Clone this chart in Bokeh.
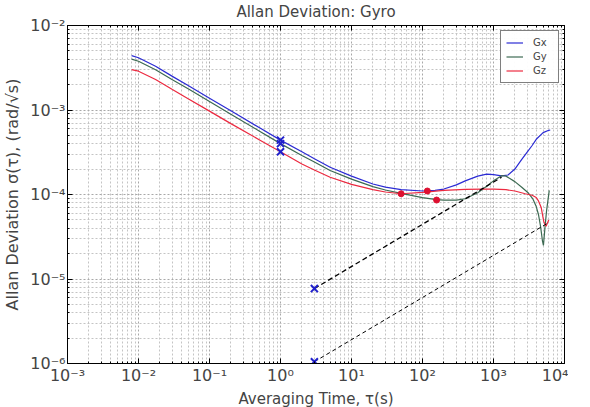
from bokeh.plotting import figure
from bokeh.models import (FixedTicker, CustomJSTickFormatter, LogAxis, Legend,
                          LegendItem, Range1d)
from bokeh.embed import file_html
from bokeh.resources import INLINE

# ---------------- data ----------------
tau_gx = [0.008, 0.01, 0.0174, 0.03, 0.05, 0.1, 0.2, 0.5, 1, 2, 3, 5, 10, 20, 30, 50,
          100, 150, 200, 300, 400, 600, 800, 1000, 1300, 1600, 2000, 2500, 3000,
          3500, 4000, 5000, 6000, 6300]
gx = [4.4e-3, 4.15e-3, 3.3e-3, 2.5e-3, 1.95e-3, 1.38e-3, 9.8e-4, 6.2e-4, 4.4e-4,
      3.2e-4, 2.65e-4, 2.1e-4, 1.65e-4, 1.33e-4, 1.22e-4, 1.14e-4, 1.1e-4, 1.12e-4,
      1.16e-4, 1.3e-4, 1.45e-4, 1.65e-4, 1.74e-4, 1.72e-4, 1.66e-4, 1.7e-4, 2.0e-4,
      2.6e-4, 3.2e-4, 3.8e-4, 4.5e-4, 5.4e-4, 5.75e-4, 5.8e-4]

tau_gy = [0.008, 0.01, 0.0174, 0.03, 0.05, 0.1, 0.2, 0.5, 1, 2, 3, 5, 10, 20, 30, 50,
          100, 158, 200, 300, 400, 600, 800, 1000, 1300, 1500, 2000, 2500, 3100,
          3600, 4000, 4300, 4600, 4900, 5050, 5300, 5600, 6100]
gy = [4.0e-3, 3.78e-3, 3.0e-3, 2.28e-3, 1.78e-3, 1.26e-3, 8.9e-4, 5.65e-4, 4.0e-4,
      2.9e-4, 2.42e-4, 1.92e-4, 1.52e-4, 1.24e-4, 1.13e-4, 1.03e-4, 9.2e-5, 8.7e-5,
      8.6e-5, 8.6e-5, 8.9e-5, 1.05e-4, 1.25e-4, 1.45e-4, 1.67e-4, 1.65e-4, 1.42e-4,
      1.22e-4, 1.04e-4, 8.8e-5, 7.2e-5, 5.8e-5, 4.2e-5, 2.8e-5, 2.5e-5, 4.0e-5,
      6.5e-5, 1.12e-4]

tau_gz = [0.008, 0.01, 0.0174, 0.03, 0.05, 0.1, 0.2, 0.5, 1, 2, 3, 5, 10, 20, 30, 50,
          100, 200, 400, 700, 1000, 1500, 2000, 2800, 3500, 4000, 4300, 4700, 5100,
          5500, 6000]
gz = [3.0e-3, 2.88e-3, 2.3e-3, 1.75e-3, 1.36e-3, 9.7e-4, 6.9e-4, 4.45e-4, 3.2e-4,
      2.3e-4, 1.95e-4, 1.6e-4, 1.32e-4, 1.14e-4, 1.07e-4, 1.02e-4, 1.06e-4, 1.12e-4,
      1.15e-4, 1.16e-4, 1.16e-4, 1.14e-4, 1.1e-4, 1.02e-4, 9.8e-5, 9.2e-5, 8.4e-5,
      7.0e-5, 4.8e-5, 4.2e-5, 5.0e-5]

# markers
arw_tau = [1, 1, 1]
arw_val = [4.4e-4, 4.0e-4, 3.2e-4]
rrw_mark_tau = [3, 3]
rrw_mark_val = [7.7e-6, 1.05e-6]
bias_tau = [50, 117, 158]
bias_val = [1.02e-4, 1.1e-4, 8.6e-5]

# rate-random-walk guide lines
rrw1_tau = [3, 1300]
rrw1_val = [7.7e-6, 1.6e-4]
rrw2_tau = [3, 5600]
rrw2_val = [1.05e-6, 4.5e-5]

x_major = [1e-3, 1e-2, 1e-1, 1e0, 1e1, 1e2, 1e3, 1e4]
y_major = [1e-6, 1e-5, 1e-4, 1e-3, 1e-2]
x_minor = [k * 10.0 ** n for n in range(-3, 4) for k in range(2, 10)]
y_minor = [k * 10.0 ** n for n in range(-6, -2) for k in range(2, 10)]

FONT = "DejaVu Sans"
C_GX = "#2b2bd4"
C_GY = "#3d6a52"
C_GZ = "#ec2a40"

p = figure(frame_width=497, frame_height=338, x_axis_type="log", y_axis_type="log",
           x_range=Range1d(1e-3, 1e4), y_range=Range1d(1e-6, 1e-2),
           output_backend="svg", toolbar_location=None,
           min_border_left=65, min_border_right=4, min_border_top=4,
           min_border_bottom=4)

p.title.text = "Allan Deviation: Gyro"
p.title.align = "center"
p.title.text_font = FONT
p.title.text_font_size = "15px"
p.title.text_font_style = "normal"
p.title.standoff = 0

fmt = CustomJSTickFormatter(code="""
const sup = {"-":"\u207b","0":"\u2070","1":"\u00b9","2":"\u00b2","3":"\u00b3",
             "4":"\u2074","5":"\u2075","6":"\u2076","7":"\u2077","8":"\u2078","9":"\u2079"};
const e = Math.round(Math.log10(tick));
return "10" + String(e).split("").map(c => sup[c]).join("");
""")
blank = CustomJSTickFormatter(code='return " ";')

xt = FixedTicker(ticks=x_major, minor_ticks=x_minor)
yt = FixedTicker(ticks=y_major, minor_ticks=y_minor)

for ax, t in ((p.xaxis[0], xt), (p.yaxis[0], yt)):
    ax.ticker = t
    ax.formatter = fmt
    ax.major_label_text_font = FONT
    ax.major_label_text_font_size = "16px"
    ax.axis_label_text_font = FONT
    ax.axis_label_text_font_size = "15px"
    ax.axis_label_text_font_style = "normal"
    ax.major_tick_in = 5
    ax.major_tick_out = 0
    ax.minor_tick_in = 2
    ax.minor_tick_out = 0
    ax.axis_line_color = "black"
    ax.major_label_standoff = 2
    ax.axis_label_standoff = 2

p.xaxis.axis_label = "Averaging Time, \u03c4(s)"
p.yaxis.axis_label = "Allan Deviation \u03c3(\u03c4), (rad/\u221as)"
p.yaxis.axis_label_text_font_size = "16px"
p.yaxis.axis_label_standoff = 5

for loc, t in (("right", yt), ("above", xt)):
    a = LogAxis(ticker=t, formatter=blank, major_label_text_font_size="2px",
                major_tick_in=5, major_tick_out=0, minor_tick_in=2, minor_tick_out=0,
                major_label_standoff=0, axis_line_color="black")
    p.add_layout(a, loc)

p.outline_line_color = "black"

for g, t in ((p.xgrid[0], xt), (p.ygrid[0], yt)):
    g.ticker = t
    g.grid_line_color = "#a8a8a8"
    g.grid_line_dash = "2 2"
    g.minor_grid_line_color = "#c4c4c4"
    g.minor_grid_line_dash = "2 2"

r1 = p.line(tau_gx, gx, line_color=C_GX, line_width=1.2)
r2 = p.line(tau_gy, gy, line_color=C_GY, line_width=1.2)
r3 = p.line(tau_gz, gz, line_color=C_GZ, line_width=1.2)

p.line(rrw1_tau, rrw1_val, line_color="black", line_dash="5 3", line_width=1.3)
p.line(rrw2_tau, rrw2_val, line_color="black", line_dash="4 3", line_width=1.0)

p.scatter(arw_tau, arw_val, marker="x", size=10, line_color="#2020cc", line_width=2)
p.scatter(rrw_mark_tau, rrw_mark_val, marker="x", size=10, line_color="#2020cc",
          line_width=2)
p.scatter(bias_tau, bias_val, marker="circle", size=6, fill_color="#dd1030",
          line_color="#dd1030")

legend = Legend(items=[LegendItem(label="Gx", renderers=[r1]),
                       LegendItem(label="Gy", renderers=[r2]),
                       LegendItem(label="Gz", renderers=[r3])],
                location="top_right")
legend.label_text_font = FONT
legend.label_text_font_size = "10px"
legend.border_line_color = "black"
legend.border_line_width = 1
legend.glyph_width = 17
legend.glyph_height = 13
legend.label_standoff = 10
legend.spacing = 1
legend.padding = 5
legend.margin = 5
p.add_layout(legend)

open("out.html", "w").write(file_html(p, INLINE))
